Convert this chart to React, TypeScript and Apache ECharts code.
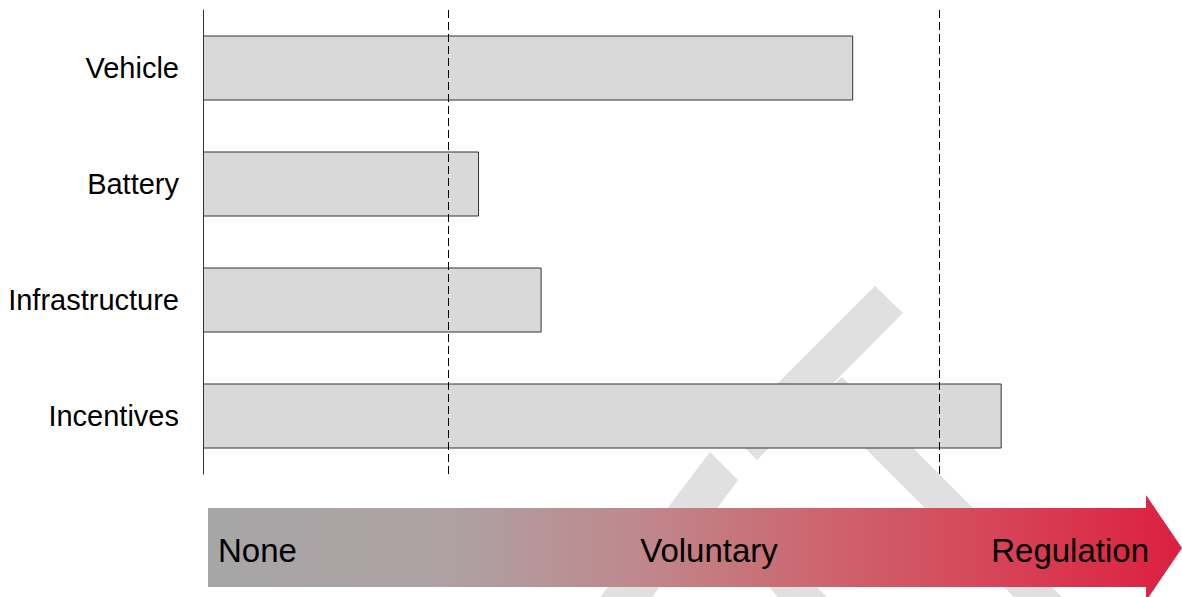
import React, { useEffect, useRef } from "react";
import * as echarts from "echarts";

const categories = ["Vehicle", "Battery", "Infrastructure", "Incentives"];
const values = [2.65, 1.125, 1.38, 3.255];
const thresholds = [1, 3];
const stageLabels = ["None", "Voluntary", "Regulation"];

const FONT = "'Liberation Sans', Arial, Helvetica, sans-serif";

export default function App() {
  const ref = useRef<HTMLDivElement>(null);

  useEffect(() => {
    if (!ref.current) return;
    const chart = echarts.init(ref.current, undefined, { renderer: "svg" });
    const wm = "#e0e0e0";
    const gradient = new echarts.graphic.LinearGradient(0, 0, 1, 0, [
      { offset: 0, color: "#a6a6a6" },
      { offset: 0.25, color: "#aea1a3" },
      { offset: 0.45, color: "#bf878c" },
      { offset: 0.62, color: "#cc6770" },
      { offset: 0.8, color: "#d6465a" },
      { offset: 1, color: "#dc1f40" },
    ]);
    chart.setOption({
      animation: false,
      backgroundColor: "#ffffff",
      grid: { left: 203, top: 10, right: 0, height: 464, containLabel: false },
      xAxis: { type: "value", min: 0, max: 3.99, show: false },
      yAxis: {
        type: "category",
        data: categories,
        inverse: true,
        axisLine: { show: true, lineStyle: { color: "#333333", width: 1 } },
        axisTick: { show: false },
        splitLine: { show: false },
        axisLabel: { color: "#000000", fontSize: 29, fontFamily: FONT, margin: 24 },
      },
      series: [
        {
          type: "bar",
          data: values,
          barWidth: 65,
          z: 2,
          itemStyle: { color: "#d9d9d9", borderColor: "#333333", borderWidth: 1 },
          markLine: {
            symbol: "none",
            silent: true,
            label: { show: false },
            lineStyle: { color: "#000000", type: [8, 4], width: 1 },
            data: thresholds.map((t) => ({ xAxis: t })),
            z: 5,
          },
        },
      ],
      graphic: [
        {
          type: "group",
          z: -10,
          silent: true,
          children: [
            { type: "polygon", shape: { points: [[875, 286], [903, 313], [757, 460], [729, 432]] }, style: { fill: wm } },
            { type: "polygon", shape: { points: [[710, 452], [738, 480], [650, 600], [598, 600]] }, style: { fill: wm } },
            { type: "polygon", shape: { points: [[842, 377], [1070, 605], [1022, 605], [816, 399]] }, style: { fill: wm } },
            { type: "polygon", shape: { points: [[735, 545], [775, 545], [830, 600], [780, 600]] }, style: { fill: wm } },
          ],
        },
        {
          type: "group",
          z: 10,
          silent: true,
          children: [
            {
              type: "polygon",
              shape: { points: [[208, 508], [1146, 508], [1146, 495], [1182, 548], [1146, 601], [1146, 587], [208, 587]] },
              style: { fill: gradient },
            },
            { type: "text", x: 218, y: 550, style: { text: stageLabels[0], fontSize: 33, fontFamily: FONT, fill: "#000", align: "left", verticalAlign: "middle" } },
            { type: "text", x: 709, y: 550, style: { text: stageLabels[1], fontSize: 33, fontFamily: FONT, fill: "#000", align: "center", verticalAlign: "middle" } },
            { type: "text", x: 1149, y: 550, style: { text: stageLabels[2], fontSize: 33, fontFamily: FONT, fill: "#000", align: "right", verticalAlign: "middle" } },
          ],
        },
      ],
    });
    return () => chart.dispose();
  }, []);

  return (
    <div
      ref={ref}
      style={{ position: "absolute", left: 0, top: 0, width: 1182, height: 597 }}
    />
  );
}
